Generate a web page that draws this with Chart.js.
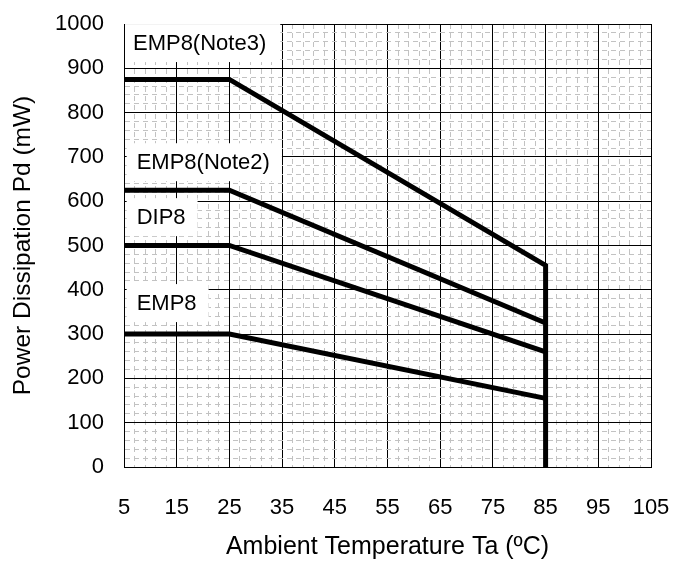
<!DOCTYPE html>
<html lang="en">
<head>
    <meta charset="UTF-8">
    <title>Power Dissipation vs Ambient Temperature</title>
    <script src="https://cdn.jsdelivr.net/npm/chart.js"></script>
    <style>
        body { margin: 0; background: #fff; }
        #wrap { width: 674px; height: 561px; }
    </style>
</head>
<body>
    <div id="wrap"><canvas id="pdChart"></canvas></div>

    <script>
        // data
        const tempNote3 = [5, 25, 85, 85];
        const pdNote3 = [875, 875, 455, 0];
        const tempOthers = [5, 25, 85];
        const pdNote2 = [625, 625, 325];
        const pdDip8 = [500, 500, 260];
        const pdEmp8 = [300, 300, 155];
        const seriesNames = ['EMP8(Note3)', 'EMP8(Note2)', 'DIP8', 'EMP8'];

        const FONT = '"Liberation Sans", Arial, sans-serif';

        function toPoints(xs, ys) {
            return xs.map((x, i) => ({ x: x, y: ys[i] }));
        }

        // label boxes drawn inside the plot (x = text start, y = text middle)
        const labelSpots = [
            { x: 6.7, y: 957 },
            { x: 7.4, y: 688 },
            { x: 7.4, y: 564 },
            { x: 7.4, y: 370 }
        ];

        const labelPlugin = {
            id: 'curveLabels',
            beforeDatasetsDraw(chart) {
                const ctx = chart.ctx;
                const xs = chart.scales.x, ys = chart.scales.y;
                ctx.save();
                ctx.font = '22px ' + FONT;
                ctx.textBaseline = 'middle';
                seriesNames.forEach((name, i) => {
                    const px = xs.getPixelForValue(labelSpots[i].x);
                    const py = ys.getPixelForValue(labelSpots[i].y);
                    const w = ctx.measureText(name).width;
                    ctx.fillStyle = '#fff';
                    ctx.fillRect(Math.max(px - 10, chart.chartArea.left + 1), py - 19, w + 22, 38);
                    ctx.fillStyle = '#000';
                    ctx.fillText(name, px, py + 1);
                });
                ctx.restore();
            }
        };

        const isMajorX = v => (v - 5) % 10 === 0;
        const isMajorY = v => v % 100 === 0;

        function line(label, pts) {
            return {
                label: label,
                data: pts,
                borderColor: '#000',
                borderWidth: 5,
                pointRadius: 0,
                showLine: true,
                fill: false,
                tension: 0
            };
        }

        new Chart(document.getElementById('pdChart'), {
            type: 'scatter',
            data: {
                datasets: [
                    line(seriesNames[0], toPoints(tempNote3, pdNote3)),
                    line(seriesNames[1], toPoints(tempOthers, pdNote2)),
                    line(seriesNames[2], toPoints(tempOthers, pdDip8)),
                    line(seriesNames[3], toPoints(tempOthers, pdEmp8))
                ]
            },
            options: {
                responsive: true,
                maintainAspectRatio: false,
                animation: false,
                layout: { padding: 0 },
                plugins: {
                    legend: { display: false },
                    tooltip: { enabled: false }
                },
                scales: {
                    x: {
                        type: 'linear',
                        min: 5,
                        max: 105,
                        afterFit(scale) {
                            // fix plot frame: right edge at 651, axis band 94px high
                            scale.height = 94;
                            scale.paddingLeft = 0;
                            scale.paddingRight = 23;
                        },
                        ticks: {
                            stepSize: 2,
                            autoSkip: false,
                            maxRotation: 0,
                            padding: 28,
                            color: '#000',
                            font: { size: 22, family: FONT },
                            callback: v => isMajorX(v) ? v : ''
                        },
                        grid: {
                            drawTicks: false,
                            color: c => (c.tick && isMajorX(c.tick.value)) ? '#000' : '#c2c2c2',
                            lineWidth: 1
                        },
                        border: {
                            color: '#000',
                            width: 1,
                            dash: c => (c.tick && !isMajorX(c.tick.value)) ? [5, 4] : []
                        },
                        title: {
                            display: true,
                            text: 'Ambient Temperature Ta (ºC)',
                            color: '#000',
                            font: { size: 25, family: FONT, lineHeight: 1 },
                            padding: { top: 0, bottom: 1 }
                        }
                    },
                    y: {
                        min: 0,
                        max: 1000,
                        afterFit(scale) {
                            scale.width = 124;
                            scale.paddingTop = 24;
                            scale.paddingBottom = 0;
                        },
                        ticks: {
                            stepSize: 20,
                            autoSkip: false,
                            padding: 20,
                            color: '#000',
                            font: { size: 22, family: FONT },
                            callback: v => isMajorY(v) ? v : ''
                        },
                        grid: {
                            drawTicks: false,
                            color: c => (c.tick && isMajorY(c.tick.value)) ? '#000' : '#c2c2c2',
                            lineWidth: 1
                        },
                        border: {
                            color: '#000',
                            width: 1,
                            dash: c => (c.tick && !isMajorY(c.tick.value)) ? [5, 4] : []
                        },
                        title: {
                            display: true,
                            text: 'Power Dissipation Pd (mW)',
                            color: '#000',
                            font: { size: 24.5, family: FONT, lineHeight: 1 },
                            padding: { top: 11, bottom: 0 }
                        }
                    }
                }
            },
            plugins: [labelPlugin]
        });
    </script>
</body>
</html>
